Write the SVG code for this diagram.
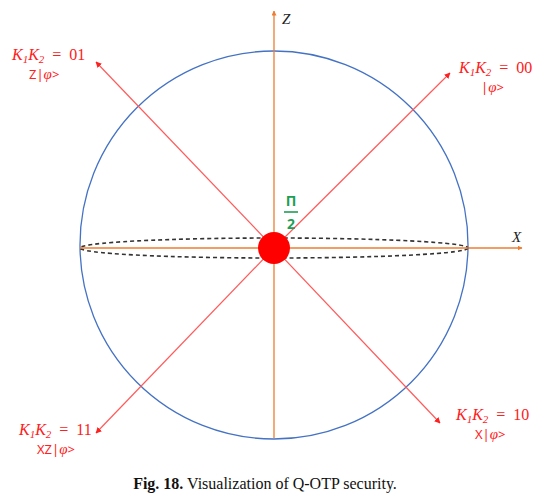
<svg xmlns="http://www.w3.org/2000/svg" width="543" height="493" viewBox="0 0 543 493">
<defs>
<marker id="ao" viewBox="0 0 10 10" refX="9" refY="5" markerWidth="5" markerHeight="5" orient="auto" markerUnits="userSpaceOnUse"><path d="M0,0 L10,5 L0,10 z" fill="#ED7D31"/></marker>
<marker id="ar" viewBox="0 0 10 10" refX="9" refY="5" markerWidth="6" markerHeight="6" orient="auto" markerUnits="userSpaceOnUse"><path d="M0,0 L10,5 L0,10 z" fill="#FF2020"/></marker>
<style>
.lbl{font-family:"Liberation Serif",serif;font-style:italic;font-size:16px;fill:#FF2020}
.sub{font-size:11px}
.st{font-family:"Noto Sans","Liberation Sans",sans-serif;font-size:13px;fill:#FF2020}
.diag{stroke:#FF5A5A;stroke-width:1.2;fill:none}
.axis{stroke:#ED7D31;stroke-width:1.3;fill:none}
</style>
</defs>
<rect width="543" height="493" fill="#fff"/>
<g id="sphere">
<circle cx="274" cy="245" r="194" fill="none" stroke="#4472C4" stroke-width="1.3"/>
<ellipse cx="274" cy="248" rx="194" ry="10" fill="none" stroke="#333" stroke-width="1.6" stroke-dasharray="4,3"/>
</g>
<g id="connectors">
<line class="axis" x1="274" y1="438" x2="274" y2="11" marker-end="url(#ao)"/>
<line class="axis" x1="80" y1="248" x2="522" y2="248" marker-end="url(#ao)"/>
<line class="diag" x1="274" y1="248" x2="96" y2="62" marker-end="url(#ar)"/>
<line class="diag" x1="274" y1="248" x2="450" y2="73" marker-end="url(#ar)"/>
<line class="diag" x1="274" y1="248" x2="96" y2="433" marker-end="url(#ar)"/>
<line class="diag" x1="274" y1="248" x2="440" y2="423" marker-end="url(#ar)"/>
</g>
<g id="center">
<circle cx="274" cy="248" r="16" fill="#FF0000"/>
<text x="291" y="206" text-anchor="middle" font-family="Noto Sans,Liberation Sans,sans-serif" font-weight="bold" font-size="14" fill="#1E9E55">Π</text>
<line x1="284" y1="212" x2="298" y2="212" stroke="#1E9E55" stroke-width="1.6"/>
<text x="291" y="229" text-anchor="middle" font-family="Noto Sans,Liberation Sans,sans-serif" font-weight="bold" font-size="14" fill="#1E9E55">2</text>
</g>
<g id="axis-labels">
<text x="282" y="24" font-family="Liberation Serif,serif" font-style="italic" font-size="15" fill="#222">Z</text>
<text x="512" y="242" font-family="Liberation Serif,serif" font-style="italic" font-size="15" fill="#222">X</text>
</g>
<g id="label-01">
<text class="lbl" x="12" y="60">K<tspan class="sub" dy="3">1</tspan><tspan dy="-3">K</tspan><tspan class="sub" dy="3">2</tspan><tspan dy="-3" font-style="normal" xml:space="preserve">  =  01</tspan></text>
<text class="st" x="29" y="79">Z|<tspan font-style="italic" font-family="Liberation Serif,serif" font-size="15">φ</tspan>&gt;</text>
</g>
<g id="label-00">
<text class="lbl" x="459" y="73">K<tspan class="sub" dy="3">1</tspan><tspan dy="-3">K</tspan><tspan class="sub" dy="3">2</tspan><tspan dy="-3" font-style="normal" xml:space="preserve">  =  00</tspan></text>
<text class="st" x="481" y="92">|<tspan font-style="italic" font-family="Liberation Serif,serif" font-size="15">φ</tspan>&gt;</text>
</g>
<g id="label-11">
<text class="lbl" x="19" y="435">K<tspan class="sub" dy="3">1</tspan><tspan dy="-3">K</tspan><tspan class="sub" dy="3">2</tspan><tspan dy="-3" font-style="normal" xml:space="preserve">  =  11</tspan></text>
<text class="st" x="37" y="454">XZ|<tspan font-style="italic" font-family="Liberation Serif,serif" font-size="15">φ</tspan>&gt;</text>
</g>
<g id="label-10">
<text class="lbl" x="456" y="420">K<tspan class="sub" dy="3">1</tspan><tspan dy="-3">K</tspan><tspan class="sub" dy="3">2</tspan><tspan dy="-3" font-style="normal" xml:space="preserve">  =  10</tspan></text>
<text class="st" x="475" y="439">X|<tspan font-style="italic" font-family="Liberation Serif,serif" font-size="15">φ</tspan>&gt;</text>
</g>
<g id="caption">
<text x="265" y="489" text-anchor="middle" font-family="Liberation Serif,serif" font-size="16" fill="#111"><tspan font-weight="bold">Fig. 18.</tspan> Visualization of Q-OTP security.</text>
</g>
</svg>
